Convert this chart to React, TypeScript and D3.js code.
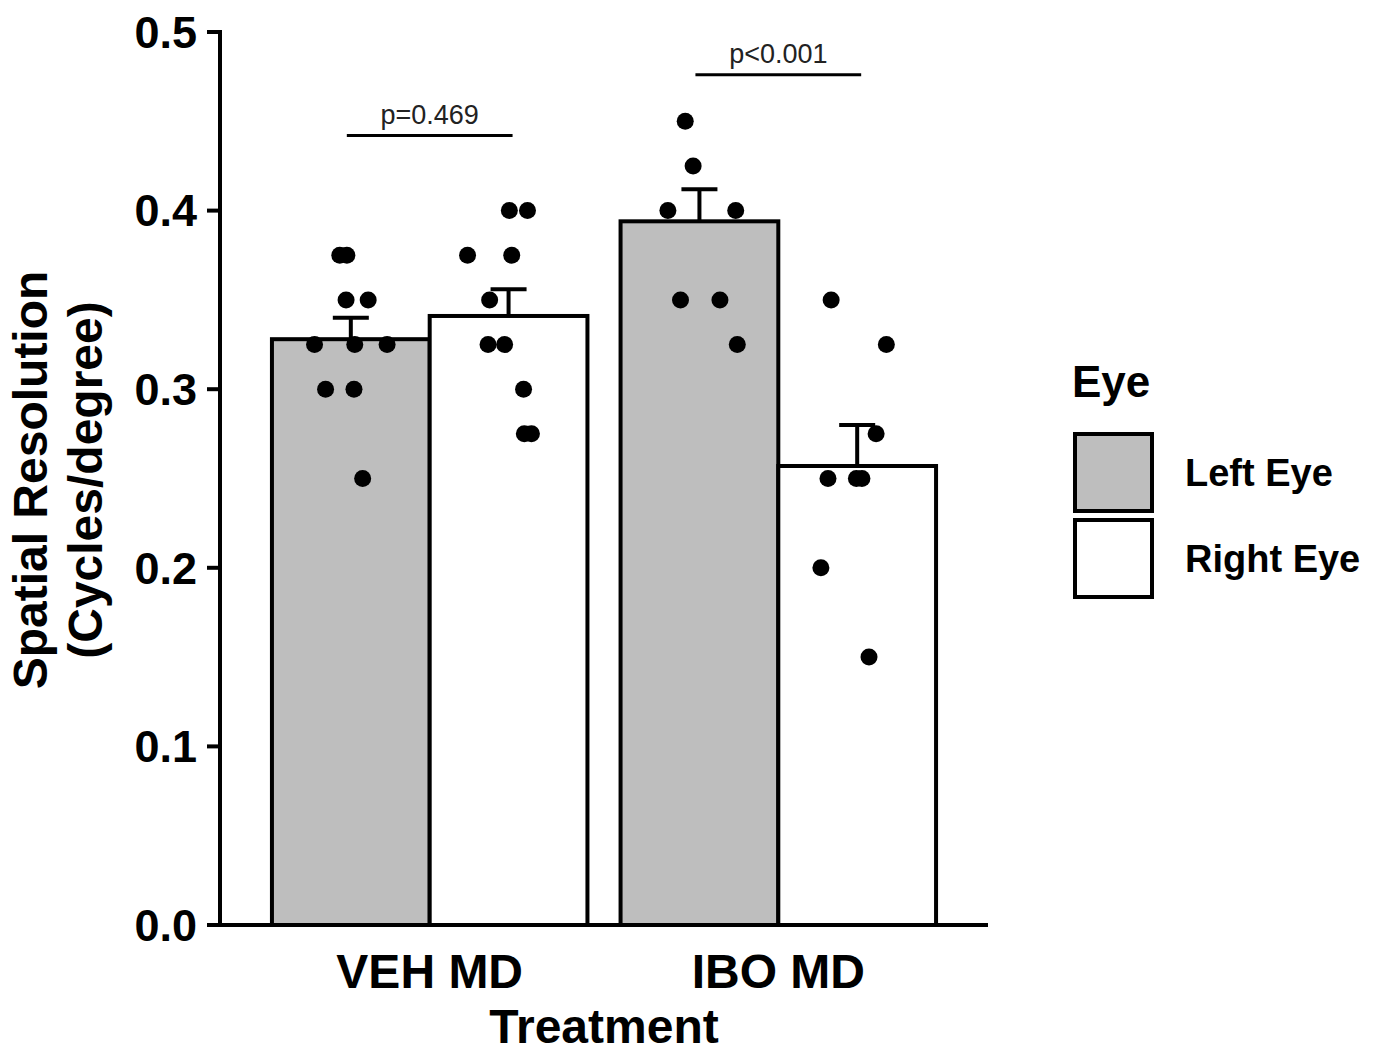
import React from 'react';
import * as d3 from 'd3';

// treatments and eyes
const groups = ['VEH MD', 'IBO MD'];
const eyes = ['Left Eye', 'Right Eye'];

// bar means and SEM per group, by eye
const meanLeft = [0.328, 0.394];
const meanRight = [0.341, 0.257];
const semLeft = [0.012, 0.018];
const semRight = [0.015, 0.023];

// individual animals
const vehLeft = [0.375, 0.375, 0.35, 0.35, 0.325, 0.325, 0.325, 0.3, 0.3, 0.25];
const vehLeftJitter = [-0.07, -0.025, -0.03, 0.11, -0.23, 0.025, 0.23, -0.16, 0.02, 0.075];
const vehRight = [0.4, 0.4, 0.375, 0.375, 0.35, 0.325, 0.325, 0.3, 0.275, 0.275];
const vehRightJitter = [0.005, 0.12, -0.26, 0.02, -0.12, -0.13, -0.025, 0.095, 0.1, 0.145];
const iboLeft = [0.45, 0.425, 0.4, 0.4, 0.35, 0.35, 0.325];
const iboLeftJitter = [-0.09, -0.04, -0.2, 0.23, -0.12, 0.13, 0.24];
const iboRight = [0.35, 0.325, 0.275, 0.25, 0.25, 0.25, 0.2, 0.15];
const iboRightJitter = [-0.165, 0.185, 0.12, -0.185, -0.005, 0.03, -0.23, 0.075];

// significance brackets
const sigLabels = ['p=0.469', 'p<0.001'];
const sigLevels = [0.442, 0.476];

const yTicks = [0, 0.1, 0.2, 0.3, 0.4, 0.5];

const GRAY = '#bebebe';
const FONT = '"Liberation Sans", Arial, Helvetica, sans-serif';

export default function App() {
  const y = d3.scaleLinear().domain([0, 0.5]).range([925, 32]);
  const x = d3.scaleBand<string>().domain(groups).range([220, 988]).paddingInner(0.095).paddingOuter(0.149);
  const xe = d3.scaleBand<string>().domain(eyes).range([0, x.bandwidth()]);
  const fill = d3.scaleOrdinal<string, string>().domain(eyes).range([GRAY, '#ffffff']);
  const fmt = d3.format('.1f');

  const bars = groups.flatMap((g, i) => [
    { g, eye: eyes[0], mean: meanLeft[i], sem: semLeft[i] },
    { g, eye: eyes[1], mean: meanRight[i], sem: semRight[i] },
  ]);

  const pts = [
    { g: groups[0], eye: eyes[0], vals: vehLeft, jit: vehLeftJitter },
    { g: groups[0], eye: eyes[1], vals: vehRight, jit: vehRightJitter },
    { g: groups[1], eye: eyes[0], vals: iboLeft, jit: iboLeftJitter },
    { g: groups[1], eye: eyes[1], vals: iboRight, jit: iboRightJitter },
  ];

  const cx = (g: string, eye: string) => (x(g) ?? 0) + (xe(eye) ?? 0) + xe.bandwidth() / 2;
  const capW = 36;

  return (
    <svg width={1380} height={1053} style={{ position: 'absolute', left: 0, top: 0, background: '#fff' }} fontFamily={FONT}>
      {/* bars */}
      {bars.map((b, i) => (
        <rect key={'b' + i}
          x={(x(b.g) ?? 0) + (xe(b.eye) ?? 0)}
          y={y(b.mean)}
          width={xe.bandwidth()}
          height={y(0) - y(b.mean)}
          fill={fill(b.eye)} stroke="#000" strokeWidth={4} />
      ))}
      {/* error bars */}
      {bars.map((b, i) => {
        const c = cx(b.g, b.eye);
        return (
          <g key={'e' + i} stroke="#000" strokeWidth={4}>
            <line x1={c} x2={c} y1={y(b.mean)} y2={y(b.mean + b.sem)} />
            <line x1={c - capW / 2} x2={c + capW / 2} y1={y(b.mean + b.sem)} y2={y(b.mean + b.sem)} />
          </g>
        );
      })}
      {/* points */}
      {pts.map((p, i) => p.vals.map((v, j) => (
        <circle key={'p' + i + '-' + j} cx={cx(p.g, p.eye) + p.jit[j] * xe.bandwidth()} cy={y(v)} r={8.5} fill="#000" />
      )))}
      {/* significance */}
      {groups.map((g, i) => {
        const x1 = cx(g, eyes[0]) - 4;
        const x2 = cx(g, eyes[1]) + 4;
        return (
          <g key={'s' + i}>
            <line x1={x1} x2={x2} y1={y(sigLevels[i])} y2={y(sigLevels[i])} stroke="#000" strokeWidth={3} />
            <text x={(x1 + x2) / 2} y={y(sigLevels[i]) - 12} textAnchor="middle" fontSize={27} fill="#222">{sigLabels[i]}</text>
          </g>
        );
      })}
      {/* y axis */}
      <line x1={220} x2={220} y1={y(0.5) - 2} y2={y(0) + 2} stroke="#000" strokeWidth={4} />
      {yTicks.map((t) => (
        <g key={'t' + t}>
          <line x1={207} x2={220} y1={y(t)} y2={y(t)} stroke="#000" strokeWidth={4} />
          <text x={197} y={y(t)} dy="0.35em" textAnchor="end" fontSize={45} fontWeight="bold">{fmt(t)}</text>
        </g>
      ))}
      {/* x axis */}
      <line x1={218} x2={988} y1={y(0)} y2={y(0)} stroke="#000" strokeWidth={4} />
      {groups.map((g) => (
        <text key={'x' + g} x={(x(g) ?? 0) + x.bandwidth() / 2} y={988} textAnchor="middle" fontSize={48} fontWeight="bold">{g}</text>
      ))}
      <text x={604} y={1043} textAnchor="middle" fontSize={48} fontWeight="bold">Treatment</text>
      {/* y label */}
      <g transform="translate(47,480) rotate(-90)">
        <text x={0} y={0} textAnchor="middle" fontSize={48} fontWeight="bold">Spatial Resolution</text>
        <text x={0} y={55} textAnchor="middle" fontSize={48} fontWeight="bold">(Cycles/degree)</text>
      </g>
      {/* legend */}
      <text x={1072} y={397} fontSize={44} fontWeight="bold">Eye</text>
      {eyes.map((e, i) => (
        <g key={'l' + e} transform={`translate(1075,${434 + i * 86})`}>
          <rect x={0} y={0} width={77} height={77} fill={fill(e)} stroke="#000" strokeWidth={4} />
          <text x={110} y={52} fontSize={38} fontWeight="bold">{e}</text>
        </g>
      ))}
    </svg>
  );
}
